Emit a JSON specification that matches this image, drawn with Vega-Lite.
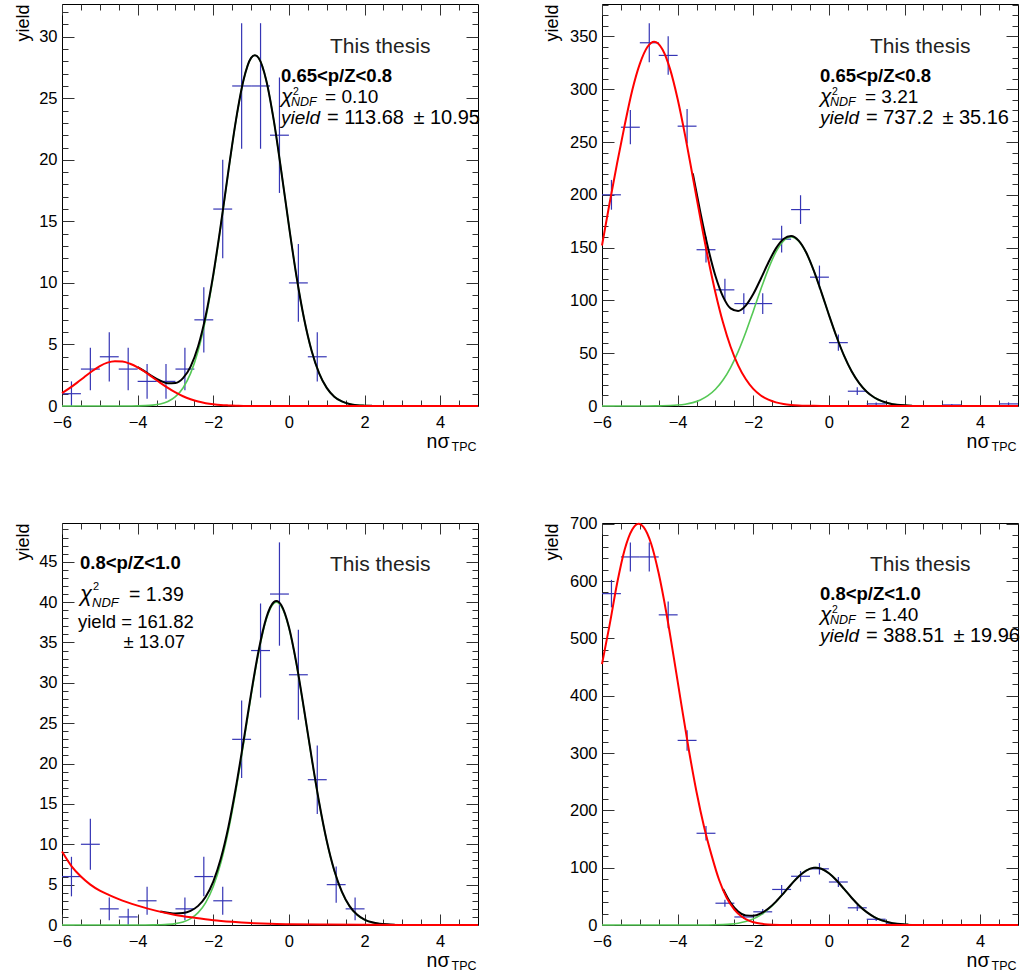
{
"$schema": "https://vega.github.io/schema/vega-lite/v6.json",
"background": "white",
"padding": {"left": 13, "top": 3, "right": 0, "bottom": 0},
"config": {
 "view": {"stroke": "#000", "strokeWidth": 1},
 "axis": {"grid": false, "domain": false, "tickColor": "#333", "tickWidth": 1, "labelFont": "Liberation Sans", "labelFontSize": 16.5, "labelColor": "#000", "labelFlush": false, "labelOverlap": false, "labelBound": false, "titleFont": "Liberation Sans", "titleFontWeight": "normal", "titleColor": "#000", "titlePadding": 0},
 "text": {"font": "Liberation Sans", "color": "#000"}
},
"datasets": {
"one": [{}],
"pts": [
{"p":1,"x":-5.75,"xlo":-6,"xhi":-5.5,"v":1,"lo":0,"hi":2},
{"p":1,"x":-5.25,"xlo":-5.5,"xhi":-5,"v":3,"lo":1.27,"hi":4.73},
{"p":1,"x":-4.75,"xlo":-5,"xhi":-4.5,"v":4,"lo":2,"hi":6},
{"p":1,"x":-4.25,"xlo":-4.5,"xhi":-4,"v":3,"lo":1.27,"hi":4.73},
{"p":1,"x":-3.75,"xlo":-4,"xhi":-3.5,"v":2,"lo":0.59,"hi":3.41},
{"p":1,"x":-3.25,"xlo":-3.5,"xhi":-3,"v":2,"lo":0.59,"hi":3.41},
{"p":1,"x":-2.75,"xlo":-3,"xhi":-2.5,"v":3,"lo":1.27,"hi":4.73},
{"p":1,"x":-2.25,"xlo":-2.5,"xhi":-2,"v":7,"lo":4.35,"hi":9.65},
{"p":1,"x":-1.75,"xlo":-2,"xhi":-1.5,"v":16,"lo":12,"hi":20},
{"p":1,"x":-1.25,"xlo":-1.5,"xhi":-1,"v":26,"lo":20.9,"hi":31.1},
{"p":1,"x":-0.75,"xlo":-1,"xhi":-0.5,"v":26,"lo":20.9,"hi":31.1},
{"p":1,"x":-0.25,"xlo":-0.5,"xhi":0,"v":22,"lo":17.31,"hi":26.69},
{"p":1,"x":0.25,"xlo":0,"xhi":0.5,"v":10,"lo":6.84,"hi":13.16},
{"p":1,"x":0.75,"xlo":0.5,"xhi":1,"v":4,"lo":2,"hi":6},
{"p":2,"x":-5.75,"xlo":-6,"xhi":-5.5,"v":200,"lo":185.9,"hi":214.1},
{"p":2,"x":-5.25,"xlo":-5.5,"xhi":-5,"v":264,"lo":247.8,"hi":280.2},
{"p":2,"x":-4.75,"xlo":-5,"xhi":-4.5,"v":344,"lo":325.5,"hi":362.5},
{"p":2,"x":-4.25,"xlo":-4.5,"xhi":-4,"v":332,"lo":313.8,"hi":350.2},
{"p":2,"x":-3.75,"xlo":-4,"xhi":-3.5,"v":265,"lo":248.7,"hi":281.3},
{"p":2,"x":-3.25,"xlo":-3.5,"xhi":-3,"v":148,"lo":135.8,"hi":160.2},
{"p":2,"x":-2.75,"xlo":-3,"xhi":-2.5,"v":110,"lo":99.5,"hi":120.5},
{"p":2,"x":-2.25,"xlo":-2.5,"xhi":-2,"v":97,"lo":87.2,"hi":106.8},
{"p":2,"x":-1.75,"xlo":-2,"xhi":-1.5,"v":97,"lo":87.2,"hi":106.8},
{"p":2,"x":-1.25,"xlo":-1.5,"xhi":-1,"v":158,"lo":145.4,"hi":170.6},
{"p":2,"x":-0.75,"xlo":-1,"xhi":-0.5,"v":186,"lo":172.4,"hi":199.6},
{"p":2,"x":-0.25,"xlo":-0.5,"xhi":0,"v":122,"lo":111,"hi":133},
{"p":2,"x":0.25,"xlo":0,"xhi":0.5,"v":60,"lo":52.3,"hi":67.7},
{"p":2,"x":0.75,"xlo":0.5,"xhi":1,"v":14,"lo":10.3,"hi":17.7},
{"p":2,"x":1.25,"xlo":1,"xhi":1.5,"v":2,"lo":0.6,"hi":3.4},
{"p":2,"x":3.25,"xlo":3,"xhi":3.5,"v":1,"lo":0,"hi":2},
{"p":2,"x":4.75,"xlo":4.5,"xhi":5,"v":2,"lo":0.6,"hi":3.4},
{"p":3,"x":-5.75,"xlo":-6,"xhi":-5.5,"v":6,"lo":3.55,"hi":8.45},
{"p":3,"x":-5.25,"xlo":-5.5,"xhi":-5,"v":10,"lo":6.84,"hi":13.16},
{"p":3,"x":-4.75,"xlo":-5,"xhi":-4.5,"v":2,"lo":0.59,"hi":3.41},
{"p":3,"x":-4.25,"xlo":-4.5,"xhi":-4,"v":1,"lo":0,"hi":2},
{"p":3,"x":-3.75,"xlo":-4,"xhi":-3.5,"v":3,"lo":1.27,"hi":4.73},
{"p":3,"x":-2.75,"xlo":-3,"xhi":-2.5,"v":2,"lo":0.59,"hi":3.41},
{"p":3,"x":-2.25,"xlo":-2.5,"xhi":-2,"v":6,"lo":3.55,"hi":8.45},
{"p":3,"x":-1.75,"xlo":-2,"xhi":-1.5,"v":3,"lo":1.27,"hi":4.73},
{"p":3,"x":-1.25,"xlo":-1.5,"xhi":-1,"v":23,"lo":18.2,"hi":27.8},
{"p":3,"x":-0.75,"xlo":-1,"xhi":-0.5,"v":34,"lo":28.17,"hi":39.83},
{"p":3,"x":-0.25,"xlo":-0.5,"xhi":0,"v":41,"lo":34.6,"hi":47.4},
{"p":3,"x":0.25,"xlo":0,"xhi":0.5,"v":31,"lo":25.43,"hi":36.57},
{"p":3,"x":0.75,"xlo":0.5,"xhi":1,"v":18,"lo":13.76,"hi":22.24},
{"p":3,"x":1.25,"xlo":1,"xhi":1.5,"v":5,"lo":2.76,"hi":7.24},
{"p":3,"x":1.75,"xlo":1.5,"xhi":2,"v":2,"lo":0.59,"hi":3.41},
{"p":4,"x":-5.75,"xlo":-6,"xhi":-5.5,"v":578,"lo":554,"hi":602},
{"p":4,"x":-5.25,"xlo":-5.5,"xhi":-5,"v":642,"lo":616.7,"hi":667.3},
{"p":4,"x":-4.75,"xlo":-5,"xhi":-4.5,"v":642,"lo":616.7,"hi":667.3},
{"p":4,"x":-4.25,"xlo":-4.5,"xhi":-4,"v":541,"lo":517.7,"hi":564.3},
{"p":4,"x":-3.75,"xlo":-4,"xhi":-3.5,"v":322,"lo":304.1,"hi":339.9},
{"p":4,"x":-3.25,"xlo":-3.5,"xhi":-3,"v":160,"lo":147.4,"hi":172.6},
{"p":4,"x":-2.75,"xlo":-3,"xhi":-2.5,"v":38,"lo":31.8,"hi":44.2},
{"p":4,"x":-2.25,"xlo":-2.5,"xhi":-2,"v":14,"lo":10.3,"hi":17.7},
{"p":4,"x":-1.75,"xlo":-2,"xhi":-1.5,"v":23,"lo":18.2,"hi":27.8},
{"p":4,"x":-1.25,"xlo":-1.5,"xhi":-1,"v":62,"lo":54.1,"hi":69.9},
{"p":4,"x":-0.75,"xlo":-1,"xhi":-0.5,"v":85,"lo":75.8,"hi":94.2},
{"p":4,"x":-0.25,"xlo":-0.5,"xhi":0,"v":98,"lo":88.1,"hi":107.9},
{"p":4,"x":0.25,"xlo":0,"xhi":0.5,"v":75,"lo":66.3,"hi":83.7},
{"p":4,"x":0.75,"xlo":0.5,"xhi":1,"v":30,"lo":24.5,"hi":35.5},
{"p":4,"x":1.25,"xlo":1,"xhi":1.5,"v":10,"lo":6.8,"hi":13.2},
{"p":4,"x":1.75,"xlo":1.5,"xhi":2,"v":2,"lo":0.6,"hi":3.4}
],
"cur": [
{"p":1,"c":"r","x":-6,"y":1.05},{"p":1,"c":"r","x":-5.8,"y":1.45},{"p":1,"c":"r","x":-5.6,"y":1.9},{"p":1,"c":"r","x":-5.4,"y":2.38},{"p":1,"c":"r","x":-5.2,"y":2.84},{"p":1,"c":"r","x":-5,"y":3.24},{"p":1,"c":"r","x":-4.8,"y":3.52},{"p":1,"c":"r","x":-4.6,"y":3.64},{"p":1,"c":"r","x":-4.4,"y":3.61},{"p":1,"c":"r","x":-4.2,"y":3.43},{"p":1,"c":"r","x":-4,"y":3.14},{"p":1,"c":"r","x":-3.8,"y":2.76},{"p":1,"c":"r","x":-3.6,"y":2.32},{"p":1,"c":"r","x":-3.4,"y":1.88},{"p":1,"c":"r","x":-3.2,"y":1.47},{"p":1,"c":"r","x":-3,"y":1.1},{"p":1,"c":"r","x":-2.8,"y":0.79},{"p":1,"c":"r","x":-2.6,"y":0.55},{"p":1,"c":"r","x":-2.4,"y":0.36},{"p":1,"c":"r","x":-2.2,"y":0.23},{"p":1,"c":"r","x":-2,"y":0.14},{"p":1,"c":"r","x":-1.8,"y":0.08},{"p":1,"c":"r","x":-1.6,"y":0.05},{"p":1,"c":"r","x":-1.4,"y":0.03},{"p":1,"c":"r","x":-1.2,"y":0.01},{"p":1,"c":"r","x":-1,"y":0},{"p":1,"c":"r","x":5,"y":0},
{"p":1,"c":"g","x":-6,"y":0},{"p":1,"c":"g","x":-4.4,"y":0},{"p":1,"c":"g","x":-4.2,"y":0.004},{"p":1,"c":"g","x":-4,"y":0.011},{"p":1,"c":"g","x":-3.8,"y":0.028},{"p":1,"c":"g","x":-3.6,"y":0.071},{"p":1,"c":"g","x":-3.4,"y":0.168},{"p":1,"c":"g","x":-3.2,"y":0.369},{"p":1,"c":"g","x":-3,"y":0.76},{"p":1,"c":"g","x":-2.8,"y":1.467},{"p":1,"c":"g","x":-2.6,"y":2.65},{"p":1,"c":"g","x":-2.4,"y":4.49},{"p":1,"c":"g","x":-2.2,"y":7.11},{"p":1,"c":"g","x":-2,"y":10.54},{"p":1,"c":"g","x":-1.8,"y":14.65},{"p":1,"c":"g","x":-1.6,"y":19.05},{"p":1,"c":"g","x":-1.4,"y":23.2},{"p":1,"c":"g","x":-1.2,"y":26.47},{"p":1,"c":"g","x":-1,"y":28.27},{"p":1,"c":"g","x":-0.9,"y":28.5},{"p":1,"c":"g","x":-0.8,"y":28.27},{"p":1,"c":"g","x":-0.6,"y":26.47},{"p":1,"c":"g","x":-0.4,"y":23.2},{"p":1,"c":"g","x":-0.2,"y":19.05},{"p":1,"c":"g","x":0,"y":14.65},{"p":1,"c":"g","x":0.2,"y":10.54},{"p":1,"c":"g","x":0.4,"y":7.11},{"p":1,"c":"g","x":0.6,"y":4.49},{"p":1,"c":"g","x":0.8,"y":2.65},{"p":1,"c":"g","x":1,"y":1.467},{"p":1,"c":"g","x":1.2,"y":0.76},{"p":1,"c":"g","x":1.4,"y":0.369},{"p":1,"c":"g","x":1.6,"y":0.168},{"p":1,"c":"g","x":1.8,"y":0.071},{"p":1,"c":"g","x":2,"y":0.028},{"p":1,"c":"g","x":2.2,"y":0.011},{"p":1,"c":"g","x":2.4,"y":0.004},{"p":1,"c":"g","x":2.6,"y":0},{"p":1,"c":"g","x":5,"y":0},
{"p":1,"c":"k","x":-4,"y":3.15},{"p":1,"c":"k","x":-3.8,"y":2.79},{"p":1,"c":"k","x":-3.6,"y":2.39},{"p":1,"c":"k","x":-3.4,"y":2.05},{"p":1,"c":"k","x":-3.2,"y":1.84},{"p":1,"c":"k","x":-3,"y":1.86},{"p":1,"c":"k","x":-2.8,"y":2.26},{"p":1,"c":"k","x":-2.6,"y":3.2},{"p":1,"c":"k","x":-2.4,"y":4.85},{"p":1,"c":"k","x":-2.2,"y":7.34},{"p":1,"c":"k","x":-2,"y":10.68},{"p":1,"c":"k","x":-1.8,"y":14.73},{"p":1,"c":"k","x":-1.6,"y":19.1},{"p":1,"c":"k","x":-1.4,"y":23.23},{"p":1,"c":"k","x":-1.2,"y":26.48},{"p":1,"c":"k","x":-1,"y":28.28},{"p":1,"c":"k","x":-0.9,"y":28.5},{"p":1,"c":"k","x":-0.8,"y":28.27},{"p":1,"c":"k","x":-0.6,"y":26.47},{"p":1,"c":"k","x":-0.4,"y":23.2},{"p":1,"c":"k","x":-0.2,"y":19.05},{"p":1,"c":"k","x":0,"y":14.65},{"p":1,"c":"k","x":0.2,"y":10.54},{"p":1,"c":"k","x":0.4,"y":7.11},{"p":1,"c":"k","x":0.6,"y":4.49},{"p":1,"c":"k","x":0.8,"y":2.65},{"p":1,"c":"k","x":1,"y":1.47},{"p":1,"c":"k","x":1.2,"y":0.76},{"p":1,"c":"k","x":1.4,"y":0.37},{"p":1,"c":"k","x":1.6,"y":0.17},{"p":1,"c":"k","x":1.8,"y":0.07},{"p":1,"c":"k","x":2,"y":0.03},{"p":1,"c":"k","x":2.2,"y":0.01},
{"p":2,"c":"r","x":-6,"y":152},{"p":2,"c":"r","x":-5.8,"y":192},{"p":2,"c":"r","x":-5.6,"y":230},{"p":2,"c":"r","x":-5.4,"y":266},{"p":2,"c":"r","x":-5.2,"y":299},{"p":2,"c":"r","x":-5,"y":324},{"p":2,"c":"r","x":-4.8,"y":340},{"p":2,"c":"r","x":-4.62,"y":345},{"p":2,"c":"r","x":-4.4,"y":337.6},{"p":2,"c":"r","x":-4.2,"y":319},{"p":2,"c":"r","x":-4,"y":290.7},{"p":2,"c":"r","x":-3.8,"y":255.8},{"p":2,"c":"r","x":-3.6,"y":217.1},{"p":2,"c":"r","x":-3.4,"y":177.9},{"p":2,"c":"r","x":-3.2,"y":140.6},{"p":2,"c":"r","x":-3,"y":107.3},{"p":2,"c":"r","x":-2.8,"y":79},{"p":2,"c":"r","x":-2.6,"y":56.1},{"p":2,"c":"r","x":-2.4,"y":38.5},{"p":2,"c":"r","x":-2.2,"y":25.5},{"p":2,"c":"r","x":-2,"y":16.2},{"p":2,"c":"r","x":-1.8,"y":10},{"p":2,"c":"r","x":-1.6,"y":5.96},{"p":2,"c":"r","x":-1.4,"y":3.42},{"p":2,"c":"r","x":-1.2,"y":1.89},{"p":2,"c":"r","x":-1,"y":1.01},{"p":2,"c":"r","x":-0.8,"y":0.52},{"p":2,"c":"r","x":-0.6,"y":0.25},{"p":2,"c":"r","x":-0.4,"y":0.12},{"p":2,"c":"r","x":-0.2,"y":0.05},{"p":2,"c":"r","x":0,"y":0.02},{"p":2,"c":"r","x":0.2,"y":0},{"p":2,"c":"r","x":5,"y":0},
{"p":2,"c":"g","x":-6,"y":0},{"p":2,"c":"g","x":-4.8,"y":0.03},{"p":2,"c":"g","x":-4.6,"y":0.09},{"p":2,"c":"g","x":-4.4,"y":0.2},{"p":2,"c":"g","x":-4.2,"y":0.43},{"p":2,"c":"g","x":-4,"y":0.88},{"p":2,"c":"g","x":-3.8,"y":1.72},{"p":2,"c":"g","x":-3.6,"y":3.21},{"p":2,"c":"g","x":-3.4,"y":5.73},{"p":2,"c":"g","x":-3.2,"y":9.75},{"p":2,"c":"g","x":-3,"y":15.8},{"p":2,"c":"g","x":-2.8,"y":24.6},{"p":2,"c":"g","x":-2.6,"y":36.4},{"p":2,"c":"g","x":-2.4,"y":51.5},{"p":2,"c":"g","x":-2.2,"y":69.6},{"p":2,"c":"g","x":-2,"y":89.8},{"p":2,"c":"g","x":-1.8,"y":110.5},{"p":2,"c":"g","x":-1.6,"y":129.9},{"p":2,"c":"g","x":-1.4,"y":145.9},{"p":2,"c":"g","x":-1.2,"y":156.3},{"p":2,"c":"g","x":-1,"y":160},{"p":2,"c":"g","x":-0.8,"y":156.1},{"p":2,"c":"g","x":-0.6,"y":145},{"p":2,"c":"g","x":-0.4,"y":128.1},{"p":2,"c":"g","x":-0.2,"y":107.8},{"p":2,"c":"g","x":0,"y":86.3},{"p":2,"c":"g","x":0.2,"y":65.8},{"p":2,"c":"g","x":0.4,"y":47.7},{"p":2,"c":"g","x":0.6,"y":32.9},{"p":2,"c":"g","x":0.8,"y":21.7},{"p":2,"c":"g","x":1,"y":13.5},{"p":2,"c":"g","x":1.2,"y":8.06},{"p":2,"c":"g","x":1.4,"y":4.57},{"p":2,"c":"g","x":1.6,"y":2.46},{"p":2,"c":"g","x":1.8,"y":1.26},{"p":2,"c":"g","x":2,"y":0.62},{"p":2,"c":"g","x":2.2,"y":0.29},{"p":2,"c":"g","x":2.4,"y":0.13},{"p":2,"c":"g","x":2.6,"y":0.05},{"p":2,"c":"g","x":2.8,"y":0},{"p":2,"c":"g","x":5,"y":0},
{"p":2,"c":"k","x":-3.6,"y":220.3},{"p":2,"c":"k","x":-3.4,"y":183.6},{"p":2,"c":"k","x":-3.2,"y":150.4},{"p":2,"c":"k","x":-3,"y":123.1},{"p":2,"c":"k","x":-2.8,"y":103.6},{"p":2,"c":"k","x":-2.6,"y":92.5},{"p":2,"c":"k","x":-2.4,"y":90},{"p":2,"c":"k","x":-2.2,"y":95.1},{"p":2,"c":"k","x":-2,"y":106},{"p":2,"c":"k","x":-1.8,"y":120.5},{"p":2,"c":"k","x":-1.6,"y":135.9},{"p":2,"c":"k","x":-1.4,"y":149.3},{"p":2,"c":"k","x":-1.2,"y":158.2},{"p":2,"c":"k","x":-1,"y":161},{"p":2,"c":"k","x":-0.8,"y":156.6},{"p":2,"c":"k","x":-0.6,"y":145.3},{"p":2,"c":"k","x":-0.4,"y":128.2},{"p":2,"c":"k","x":-0.2,"y":107.9},{"p":2,"c":"k","x":0,"y":86.3},{"p":2,"c":"k","x":0.2,"y":65.8},{"p":2,"c":"k","x":0.4,"y":47.7},{"p":2,"c":"k","x":0.6,"y":32.9},{"p":2,"c":"k","x":0.8,"y":21.7},{"p":2,"c":"k","x":1,"y":13.5},{"p":2,"c":"k","x":1.2,"y":8.06},{"p":2,"c":"k","x":1.4,"y":4.57},{"p":2,"c":"k","x":1.6,"y":2.46},{"p":2,"c":"k","x":1.8,"y":1.26},{"p":2,"c":"k","x":2,"y":0.62},{"p":2,"c":"k","x":2.2,"y":0.29},
{"p":3,"c":"r","x":-6,"y":9.1},{"p":3,"c":"r","x":-5.75,"y":7.3},{"p":3,"c":"r","x":-5.5,"y":6},{"p":3,"c":"r","x":-5.25,"y":5},{"p":3,"c":"r","x":-5,"y":4.25},{"p":3,"c":"r","x":-4.75,"y":3.7},{"p":3,"c":"r","x":-4.5,"y":3.2},{"p":3,"c":"r","x":-4,"y":2.4},{"p":3,"c":"r","x":-3.5,"y":1.75},{"p":3,"c":"r","x":-3,"y":1.25},{"p":3,"c":"r","x":-2.5,"y":0.9},{"p":3,"c":"r","x":-2,"y":0.6},{"p":3,"c":"r","x":-1.5,"y":0.4},{"p":3,"c":"r","x":-1,"y":0.25},{"p":3,"c":"r","x":-0.5,"y":0.15},{"p":3,"c":"r","x":0,"y":0.1},{"p":3,"c":"r","x":1,"y":0.05},{"p":3,"c":"r","x":2,"y":0.02},{"p":3,"c":"r","x":3,"y":0},{"p":3,"c":"r","x":5,"y":0},
{"p":3,"c":"g","x":-6,"y":0},{"p":3,"c":"g","x":-3.8,"y":0},{"p":3,"c":"g","x":-3.6,"y":0.01},{"p":3,"c":"g","x":-3.4,"y":0.03},{"p":3,"c":"g","x":-3.2,"y":0.075},{"p":3,"c":"g","x":-3,"y":0.175},{"p":3,"c":"g","x":-2.8,"y":0.383},{"p":3,"c":"g","x":-2.6,"y":0.788},{"p":3,"c":"g","x":-2.4,"y":1.53},{"p":3,"c":"g","x":-2.2,"y":2.78},{"p":3,"c":"g","x":-2,"y":4.78},{"p":3,"c":"g","x":-1.8,"y":7.71},{"p":3,"c":"g","x":-1.6,"y":11.7},{"p":3,"c":"g","x":-1.4,"y":16.72},{"p":3,"c":"g","x":-1.2,"y":22.47},{"p":3,"c":"g","x":-1,"y":28.41},{"p":3,"c":"g","x":-0.8,"y":33.8},{"p":3,"c":"g","x":-0.6,"y":37.84},{"p":3,"c":"g","x":-0.4,"y":39.85},{"p":3,"c":"g","x":-0.33,"y":40},{"p":3,"c":"g","x":-0.2,"y":39.49},{"p":3,"c":"g","x":0,"y":36.82},{"p":3,"c":"g","x":0.2,"y":32.29},{"p":3,"c":"g","x":0.4,"y":26.65},{"p":3,"c":"g","x":0.6,"y":20.69},{"p":3,"c":"g","x":0.8,"y":15.12},{"p":3,"c":"g","x":1,"y":10.39},{"p":3,"c":"g","x":1.2,"y":6.72},{"p":3,"c":"g","x":1.4,"y":4.09},{"p":3,"c":"g","x":1.6,"y":2.34},{"p":3,"c":"g","x":1.8,"y":1.26},{"p":3,"c":"g","x":2,"y":0.64},{"p":3,"c":"g","x":2.2,"y":0.3},{"p":3,"c":"g","x":2.4,"y":0.14},{"p":3,"c":"g","x":2.6,"y":0.06},{"p":3,"c":"g","x":2.8,"y":0.02},{"p":3,"c":"g","x":3,"y":0},{"p":3,"c":"g","x":5,"y":0},
{"p":3,"c":"k","x":-3.4,"y":1.68},{"p":3,"c":"k","x":-3.2,"y":1.53},{"p":3,"c":"k","x":-3,"y":1.43},{"p":3,"c":"k","x":-2.8,"y":1.49},{"p":3,"c":"k","x":-2.6,"y":1.76},{"p":3,"c":"k","x":-2.4,"y":2.37},{"p":3,"c":"k","x":-2.2,"y":3.5},{"p":3,"c":"k","x":-2,"y":5.38},{"p":3,"c":"k","x":-1.8,"y":8.23},{"p":3,"c":"k","x":-1.6,"y":12.14},{"p":3,"c":"k","x":-1.4,"y":17.09},{"p":3,"c":"k","x":-1.2,"y":22.78},{"p":3,"c":"k","x":-1,"y":28.66},{"p":3,"c":"k","x":-0.8,"y":34.01},{"p":3,"c":"k","x":-0.6,"y":38.02},{"p":3,"c":"k","x":-0.4,"y":40},{"p":3,"c":"k","x":-0.33,"y":40.13},{"p":3,"c":"k","x":-0.2,"y":39.61},{"p":3,"c":"k","x":0,"y":36.92},{"p":3,"c":"k","x":0.2,"y":32.38},{"p":3,"c":"k","x":0.4,"y":26.73},{"p":3,"c":"k","x":0.6,"y":20.76},{"p":3,"c":"k","x":0.8,"y":15.18},{"p":3,"c":"k","x":1,"y":10.44},{"p":3,"c":"k","x":1.2,"y":6.76},{"p":3,"c":"k","x":1.4,"y":4.13},{"p":3,"c":"k","x":1.6,"y":2.37},{"p":3,"c":"k","x":1.8,"y":1.29},{"p":3,"c":"k","x":2,"y":0.67},{"p":3,"c":"k","x":2.2,"y":0.33},{"p":3,"c":"k","x":2.4,"y":0.16},{"p":3,"c":"k","x":2.6,"y":0.08},{"p":3,"c":"k","x":2.8,"y":0.04},
{"p":4,"c":"r","x":-6,"y":455},{"p":4,"c":"r","x":-5.8,"y":523},{"p":4,"c":"r","x":-5.6,"y":596},{"p":4,"c":"r","x":-5.4,"y":655},{"p":4,"c":"r","x":-5.2,"y":690},{"p":4,"c":"r","x":-5.03,"y":700},{"p":4,"c":"r","x":-4.9,"y":694},{"p":4,"c":"r","x":-4.7,"y":665},{"p":4,"c":"r","x":-4.5,"y":613},{"p":4,"c":"r","x":-4.3,"y":545},{"p":4,"c":"r","x":-4.1,"y":466},{"p":4,"c":"r","x":-3.9,"y":384},{"p":4,"c":"r","x":-3.7,"y":304},{"p":4,"c":"r","x":-3.5,"y":232},{"p":4,"c":"r","x":-3.3,"y":171},{"p":4,"c":"r","x":-3.1,"y":121},{"p":4,"c":"r","x":-2.9,"y":78},{"p":4,"c":"r","x":-2.7,"y":47},{"p":4,"c":"r","x":-2.5,"y":27},{"p":4,"c":"r","x":-2.3,"y":14.5},{"p":4,"c":"r","x":-2.1,"y":7.2},{"p":4,"c":"r","x":-1.9,"y":3.4},{"p":4,"c":"r","x":-1.7,"y":1.5},{"p":4,"c":"r","x":-1.5,"y":0.6},{"p":4,"c":"r","x":-1.3,"y":0.2},{"p":4,"c":"r","x":-1.1,"y":0.05},{"p":4,"c":"r","x":-0.9,"y":0},{"p":4,"c":"r","x":5,"y":0},
{"p":4,"c":"g","x":-6,"y":0},{"p":4,"c":"g","x":-3.4,"y":0},{"p":4,"c":"g","x":-3.2,"y":0.12},{"p":4,"c":"g","x":-3,"y":0.31},{"p":4,"c":"g","x":-2.8,"y":0.72},{"p":4,"c":"g","x":-2.6,"y":1.56},{"p":4,"c":"g","x":-2.4,"y":3.16},{"p":4,"c":"g","x":-2.2,"y":6},{"p":4,"c":"g","x":-2,"y":10.67},{"p":4,"c":"g","x":-1.8,"y":17.76},{"p":4,"c":"g","x":-1.6,"y":27.69},{"p":4,"c":"g","x":-1.4,"y":40.4},{"p":4,"c":"g","x":-1.2,"y":55.2},{"p":4,"c":"g","x":-1,"y":70.7},{"p":4,"c":"g","x":-0.8,"y":84.7},{"p":4,"c":"g","x":-0.6,"y":95},{"p":4,"c":"g","x":-0.4,"y":99.8},{"p":4,"c":"g","x":-0.35,"y":100},{"p":4,"c":"g","x":-0.2,"y":98.2},{"p":4,"c":"g","x":0,"y":90.4},{"p":4,"c":"g","x":0.2,"y":78},{"p":4,"c":"g","x":0.4,"y":63},{"p":4,"c":"g","x":0.6,"y":47.6},{"p":4,"c":"g","x":0.8,"y":33.7},{"p":4,"c":"g","x":1,"y":22.4},{"p":4,"c":"g","x":1.2,"y":13.9},{"p":4,"c":"g","x":1.4,"y":8.07},{"p":4,"c":"g","x":1.6,"y":4.39},{"p":4,"c":"g","x":1.8,"y":2.24},{"p":4,"c":"g","x":2,"y":1.07},{"p":4,"c":"g","x":2.2,"y":0.48},{"p":4,"c":"g","x":2.4,"y":0.2},{"p":4,"c":"g","x":2.6,"y":0},{"p":4,"c":"g","x":5,"y":0},
{"p":4,"c":"k","x":-2.8,"y":62.7},{"p":4,"c":"k","x":-2.6,"y":38.6},{"p":4,"c":"k","x":-2.4,"y":23.7},{"p":4,"c":"k","x":-2.2,"y":16.8},{"p":4,"c":"k","x":-2,"y":16},{"p":4,"c":"k","x":-1.8,"y":20.2},{"p":4,"c":"k","x":-1.6,"y":28.7},{"p":4,"c":"k","x":-1.4,"y":40.8},{"p":4,"c":"k","x":-1.2,"y":55.3},{"p":4,"c":"k","x":-1,"y":70.7},{"p":4,"c":"k","x":-0.8,"y":84.7},{"p":4,"c":"k","x":-0.6,"y":95},{"p":4,"c":"k","x":-0.4,"y":99.8},{"p":4,"c":"k","x":-0.35,"y":100},{"p":4,"c":"k","x":-0.2,"y":98.2},{"p":4,"c":"k","x":0,"y":90.4},{"p":4,"c":"k","x":0.2,"y":78},{"p":4,"c":"k","x":0.4,"y":63},{"p":4,"c":"k","x":0.6,"y":47.6},{"p":4,"c":"k","x":0.8,"y":33.7},{"p":4,"c":"k","x":1,"y":22.4},{"p":4,"c":"k","x":1.2,"y":13.9},{"p":4,"c":"k","x":1.4,"y":8.07},{"p":4,"c":"k","x":1.6,"y":4.39},{"p":4,"c":"k","x":1.8,"y":2.24},{"p":4,"c":"k","x":2,"y":1.07},{"p":4,"c":"k","x":2.1,"y":0.7}
]
},
"columns": 2,
"spacing": {"row": 117, "column": 124},
"bounds": "flush",
"concat": [
{
 "width": 416, "height": 402,
 "resolve": {"axis": {"x": "independent", "y": "independent"}},
 "layer": [
  {"data": {"name": "pts"}, "transform": [{"filter": "datum.p == 1"}],
   "mark": {"type": "rule", "color": "#3535b5", "strokeWidth": 1.2},
   "encoding": {
    "x": {"field": "x", "type": "quantitative", "scale": {"domain": [-6, 5], "nice": false, "zero": false}, "axis": {"orient": "bottom", "values": [-6,-4,-2,0,2,4], "tickSize": -11, "labelPadding": 19, "title": "nσ", "titleX": 387, "titleY": 41, "titleAlign": "right", "titleBaseline": "alphabetic", "titleFontSize": 19.5}},
    "y": {"field": "lo", "type": "quantitative", "scale": {"domain": [0, 32.66], "nice": false, "zero": false}, "axis": {"orient": "left", "values": [0,5,10,15,20,25,30], "tickSize": -12, "labelPadding": 17, "title": "yield", "titleX": -34, "titleY": 0, "titleAngle": 270, "titleAlign": "right", "titleBaseline": "alphabetic", "titleFontSize": 18}},
    "y2": {"field": "hi"}}},
  {"data": {"name": "pts"}, "transform": [{"filter": "datum.p == 1"}],
   "mark": {"type": "rule", "color": "#3535b5", "strokeWidth": 1.2},
   "encoding": {
    "x": {"field": "xlo", "type": "quantitative", "scale": {"domain": [-6, 5], "nice": false, "zero": false}, "axis": {"orient": "bottom", "values": [-5.5,-5,-4.5,-3.5,-3,-2.5,-1.5,-1,-0.5,0.5,1,1.5,2.5,3,3.5,4.5], "tickSize": -6, "labels": false, "title": "TPC", "titleX": 414, "titleY": 44, "titleAlign": "right", "titleBaseline": "alphabetic", "titleFontSize": 12.5}},
    "x2": {"field": "xhi"},
    "y": {"field": "v", "type": "quantitative", "scale": {"domain": [0, 32.66], "nice": false, "zero": false}, "axis": {"orient": "left", "values": [1,2,3,4,6,7,8,9,11,12,13,14,16,17,18,19,21,22,23,24,26,27,28,29,31,32], "tickSize": -6, "labels": false, "title": null}}}},
  {"data": {"name": "cur"}, "transform": [{"filter": "datum.p == 1 && datum.c == 'g'"}],
   "mark": {"type": "line", "color": "#55c855", "strokeWidth": 1.6, "interpolate": "monotone"},
   "encoding": {
    "x": {"field": "x", "type": "quantitative", "scale": {"domain": [-6, 5], "nice": false, "zero": false}, "axis": {"orient": "top", "values": [-6,-4,-2,0,2,4], "tickSize": -11, "labels": false, "title": null}},
    "y": {"field": "y", "type": "quantitative", "scale": {"domain": [0, 32.66], "nice": false, "zero": false}, "axis": {"orient": "right", "values": [0,5,10,15,20,25,30], "tickSize": -12, "labels": false, "title": null}}}},
  {"data": {"name": "cur"}, "transform": [{"filter": "datum.p == 1 && datum.c == 'k'"}],
   "mark": {"type": "line", "color": "#000000", "strokeWidth": 2, "interpolate": "monotone"},
   "encoding": {
    "x": {"field": "x", "type": "quantitative", "scale": {"domain": [-6, 5], "nice": false, "zero": false}, "axis": {"orient": "top", "values": [-5.5,-5,-4.5,-3.5,-3,-2.5,-1.5,-1,-0.5,0.5,1,1.5,2.5,3,3.5,4.5], "tickSize": -6, "labels": false, "title": null}},
    "y": {"field": "y", "type": "quantitative", "scale": {"domain": [0, 32.66], "nice": false, "zero": false}, "axis": {"orient": "right", "values": [1,2,3,4,6,7,8,9,11,12,13,14,16,17,18,19,21,22,23,24,26,27,28,29,31,32], "tickSize": -6, "labels": false, "title": null}}}},
  {"data": {"name": "cur"}, "transform": [{"filter": "datum.p == 1 && datum.c == 'r'"}],
   "mark": {"type": "line", "color": "#ff0000", "strokeWidth": 2, "interpolate": "monotone"},
   "encoding": {
    "x": {"field": "x", "type": "quantitative", "scale": {"domain": [-6, 5], "nice": false, "zero": false}, "axis": null},
    "y": {"field": "y", "type": "quantitative", "scale": {"domain": [0, 32.66], "nice": false, "zero": false}, "axis": null}}},
  {"data": {"name": "one"}, "mark": {"type": "text", "text": "This thesis", "fontSize": 21, "align": "left", "baseline": "alphabetic", "color": "#222"},
   "encoding": {"x": {"datum": 1.087, "type": "quantitative", "scale": {"domain": [-6, 5], "nice": false, "zero": false}, "axis": null}, "y": {"datum": 28.68, "type": "quantitative", "scale": {"domain": [0, 32.66], "nice": false, "zero": false}, "axis": null}}},
  {"data": {"name": "one"}, "mark": {"type": "text", "text": "0.65<p/Z<0.8", "fontSize": 18.5, "fontWeight": "bold", "align": "left", "baseline": "alphabetic"},
   "encoding": {"x": {"datum": -0.209, "type": "quantitative", "scale": {"domain": [-6, 5], "nice": false, "zero": false}, "axis": null}, "y": {"datum": 26.32, "type": "quantitative", "scale": {"domain": [0, 32.66], "nice": false, "zero": false}, "axis": null}}},
  {"data": {"name": "one"}, "mark": {"type": "text", "text": "χ", "fontSize": 21, "fontStyle": "italic", "align": "left", "baseline": "alphabetic"},
   "encoding": {"x": {"datum": -0.209, "type": "quantitative", "scale": {"domain": [-6, 5], "nice": false, "zero": false}, "axis": null}, "y": {"datum": 24.64, "type": "quantitative", "scale": {"domain": [0, 32.66], "nice": false, "zero": false}, "axis": null}}},
  {"data": {"name": "one"}, "mark": {"type": "text", "text": "2", "fontSize": 10.5, "align": "left", "baseline": "alphabetic", "dx": 12, "dy": -8},
   "encoding": {"x": {"datum": -0.209, "type": "quantitative", "scale": {"domain": [-6, 5], "nice": false, "zero": false}, "axis": null}, "y": {"datum": 24.64, "type": "quantitative", "scale": {"domain": [0, 32.66], "nice": false, "zero": false}, "axis": null}}},
  {"data": {"name": "one"}, "mark": {"type": "text", "text": "NDF", "fontSize": 12.5, "fontStyle": "italic", "align": "left", "baseline": "alphabetic", "dx": 10, "dy": 3},
   "encoding": {"x": {"datum": -0.209, "type": "quantitative", "scale": {"domain": [-6, 5], "nice": false, "zero": false}, "axis": null}, "y": {"datum": 24.64, "type": "quantitative", "scale": {"domain": [0, 32.66], "nice": false, "zero": false}, "axis": null}}},
  {"data": {"name": "one"}, "mark": {"type": "text", "text": "= 0.10", "fontSize": 19, "align": "left", "baseline": "alphabetic", "dx": 44},
   "encoding": {"x": {"datum": -0.209, "type": "quantitative", "scale": {"domain": [-6, 5], "nice": false, "zero": false}, "axis": null}, "y": {"datum": 24.64, "type": "quantitative", "scale": {"domain": [0, 32.66], "nice": false, "zero": false}, "axis": null}}},
  {"data": {"name": "one"}, "mark": {"type": "text", "text": "yield", "fontSize": 19, "fontStyle": "italic", "align": "left", "baseline": "alphabetic"},
   "encoding": {"x": {"datum": -0.209, "type": "quantitative", "scale": {"domain": [-6, 5], "nice": false, "zero": false}, "axis": null}, "y": {"datum": 22.94, "type": "quantitative", "scale": {"domain": [0, 32.66], "nice": false, "zero": false}, "axis": null}}},
  {"data": {"name": "one"}, "mark": {"type": "text", "text": "= 113.68", "fontSize": 20, "align": "left", "baseline": "alphabetic", "dx": 46},
   "encoding": {"x": {"datum": -0.209, "type": "quantitative", "scale": {"domain": [-6, 5], "nice": false, "zero": false}, "axis": null}, "y": {"datum": 22.94, "type": "quantitative", "scale": {"domain": [0, 32.66], "nice": false, "zero": false}, "axis": null}}},
  {"data": {"name": "one"}, "mark": {"type": "text", "text": "± 10.95", "fontSize": 20, "align": "right", "baseline": "alphabetic", "dx": 199},
   "encoding": {"x": {"datum": -0.209, "type": "quantitative", "scale": {"domain": [-6, 5], "nice": false, "zero": false}, "axis": null}, "y": {"datum": 22.94, "type": "quantitative", "scale": {"domain": [0, 32.66], "nice": false, "zero": false}, "axis": null}}}
 ]
},
{
 "width": 416, "height": 402,
 "resolve": {"axis": {"x": "independent", "y": "independent"}},
 "layer": [
  {"data": {"name": "pts"}, "transform": [{"filter": "datum.p == 2"}],
   "mark": {"type": "rule", "color": "#3535b5", "strokeWidth": 1.2},
   "encoding": {
    "x": {"field": "x", "type": "quantitative", "scale": {"domain": [-6, 5], "nice": false, "zero": false}, "axis": {"orient": "bottom", "values": [-6,-4,-2,0,2,4], "tickSize": -11, "labelPadding": 19, "title": "nσ", "titleX": 387, "titleY": 41, "titleAlign": "right", "titleBaseline": "alphabetic", "titleFontSize": 19.5}},
    "y": {"field": "lo", "type": "quantitative", "scale": {"domain": [0, 380.7], "nice": false, "zero": false}, "axis": {"orient": "left", "values": [0,50,100,150,200,250,300,350], "tickSize": -12, "labelPadding": 17, "title": "yield", "titleX": -45, "titleY": 0, "titleAngle": 270, "titleAlign": "right", "titleBaseline": "alphabetic", "titleFontSize": 18}},
    "y2": {"field": "hi"}}},
  {"data": {"name": "pts"}, "transform": [{"filter": "datum.p == 2"}],
   "mark": {"type": "rule", "color": "#3535b5", "strokeWidth": 1.2},
   "encoding": {
    "x": {"field": "xlo", "type": "quantitative", "scale": {"domain": [-6, 5], "nice": false, "zero": false}, "axis": {"orient": "bottom", "values": [-5.5,-5,-4.5,-3.5,-3,-2.5,-1.5,-1,-0.5,0.5,1,1.5,2.5,3,3.5,4.5], "tickSize": -6, "labels": false, "title": "TPC", "titleX": 414, "titleY": 44, "titleAlign": "right", "titleBaseline": "alphabetic", "titleFontSize": 12.5}},
    "x2": {"field": "xhi"},
    "y": {"field": "v", "type": "quantitative", "scale": {"domain": [0, 380.7], "nice": false, "zero": false}, "axis": {"orient": "left", "values": [10,20,30,40,60,70,80,90,110,120,130,140,160,170,180,190,210,220,230,240,260,270,280,290,310,320,330,340,360,370,380], "tickSize": -6, "labels": false, "title": null}}}},
  {"data": {"name": "cur"}, "transform": [{"filter": "datum.p == 2 && datum.c == 'g'"}],
   "mark": {"type": "line", "color": "#55c855", "strokeWidth": 1.6, "interpolate": "monotone"},
   "encoding": {
    "x": {"field": "x", "type": "quantitative", "scale": {"domain": [-6, 5], "nice": false, "zero": false}, "axis": {"orient": "top", "values": [-6,-4,-2,0,2,4], "tickSize": -11, "labels": false, "title": null}},
    "y": {"field": "y", "type": "quantitative", "scale": {"domain": [0, 380.7], "nice": false, "zero": false}, "axis": {"orient": "right", "values": [0,50,100,150,200,250,300,350], "tickSize": -12, "labels": false, "title": null}}}},
  {"data": {"name": "cur"}, "transform": [{"filter": "datum.p == 2 && datum.c == 'k'"}],
   "mark": {"type": "line", "color": "#000000", "strokeWidth": 2, "interpolate": "monotone"},
   "encoding": {
    "x": {"field": "x", "type": "quantitative", "scale": {"domain": [-6, 5], "nice": false, "zero": false}, "axis": {"orient": "top", "values": [-5.5,-5,-4.5,-3.5,-3,-2.5,-1.5,-1,-0.5,0.5,1,1.5,2.5,3,3.5,4.5], "tickSize": -6, "labels": false, "title": null}},
    "y": {"field": "y", "type": "quantitative", "scale": {"domain": [0, 380.7], "nice": false, "zero": false}, "axis": {"orient": "right", "values": [10,20,30,40,60,70,80,90,110,120,130,140,160,170,180,190,210,220,230,240,260,270,280,290,310,320,330,340,360,370,380], "tickSize": -6, "labels": false, "title": null}}}},
  {"data": {"name": "cur"}, "transform": [{"filter": "datum.p == 2 && datum.c == 'r'"}],
   "mark": {"type": "line", "color": "#ff0000", "strokeWidth": 2, "interpolate": "monotone"},
   "encoding": {
    "x": {"field": "x", "type": "quantitative", "scale": {"domain": [-6, 5], "nice": false, "zero": false}, "axis": null},
    "y": {"field": "y", "type": "quantitative", "scale": {"domain": [0, 380.7], "nice": false, "zero": false}, "axis": null}}},
  {"data": {"name": "one"}, "mark": {"type": "text", "text": "This thesis", "fontSize": 21, "align": "left", "baseline": "alphabetic", "color": "#222"},
   "encoding": {"x": {"datum": 1.087, "type": "quantitative", "scale": {"domain": [-6, 5], "nice": false, "zero": false}, "axis": null}, "y": {"datum": 334.3, "type": "quantitative", "scale": {"domain": [0, 380.7], "nice": false, "zero": false}, "axis": null}}},
  {"data": {"name": "one"}, "mark": {"type": "text", "text": "0.65<p/Z<0.8", "fontSize": 18.5, "fontWeight": "bold", "align": "left", "baseline": "alphabetic"},
   "encoding": {"x": {"datum": -0.236, "type": "quantitative", "scale": {"domain": [-6, 5], "nice": false, "zero": false}, "axis": null}, "y": {"datum": 306.8, "type": "quantitative", "scale": {"domain": [0, 380.7], "nice": false, "zero": false}, "axis": null}}},
  {"data": {"name": "one"}, "mark": {"type": "text", "text": "χ", "fontSize": 21, "fontStyle": "italic", "align": "left", "baseline": "alphabetic"},
   "encoding": {"x": {"datum": -0.236, "type": "quantitative", "scale": {"domain": [-6, 5], "nice": false, "zero": false}, "axis": null}, "y": {"datum": 287.2, "type": "quantitative", "scale": {"domain": [0, 380.7], "nice": false, "zero": false}, "axis": null}}},
  {"data": {"name": "one"}, "mark": {"type": "text", "text": "2", "fontSize": 10.5, "align": "left", "baseline": "alphabetic", "dx": 12, "dy": -8},
   "encoding": {"x": {"datum": -0.236, "type": "quantitative", "scale": {"domain": [-6, 5], "nice": false, "zero": false}, "axis": null}, "y": {"datum": 287.2, "type": "quantitative", "scale": {"domain": [0, 380.7], "nice": false, "zero": false}, "axis": null}}},
  {"data": {"name": "one"}, "mark": {"type": "text", "text": "NDF", "fontSize": 12.5, "fontStyle": "italic", "align": "left", "baseline": "alphabetic", "dx": 10, "dy": 3},
   "encoding": {"x": {"datum": -0.236, "type": "quantitative", "scale": {"domain": [-6, 5], "nice": false, "zero": false}, "axis": null}, "y": {"datum": 287.2, "type": "quantitative", "scale": {"domain": [0, 380.7], "nice": false, "zero": false}, "axis": null}}},
  {"data": {"name": "one"}, "mark": {"type": "text", "text": "= 3.21", "fontSize": 19, "align": "left", "baseline": "alphabetic", "dx": 45},
   "encoding": {"x": {"datum": -0.236, "type": "quantitative", "scale": {"domain": [-6, 5], "nice": false, "zero": false}, "axis": null}, "y": {"datum": 287.2, "type": "quantitative", "scale": {"domain": [0, 380.7], "nice": false, "zero": false}, "axis": null}}},
  {"data": {"name": "one"}, "mark": {"type": "text", "text": "yield", "fontSize": 19, "fontStyle": "italic", "align": "left", "baseline": "alphabetic"},
   "encoding": {"x": {"datum": -0.236, "type": "quantitative", "scale": {"domain": [-6, 5], "nice": false, "zero": false}, "axis": null}, "y": {"datum": 267.3, "type": "quantitative", "scale": {"domain": [0, 380.7], "nice": false, "zero": false}, "axis": null}}},
  {"data": {"name": "one"}, "mark": {"type": "text", "text": "= 737.2", "fontSize": 20, "align": "left", "baseline": "alphabetic", "dx": 46},
   "encoding": {"x": {"datum": -0.236, "type": "quantitative", "scale": {"domain": [-6, 5], "nice": false, "zero": false}, "axis": null}, "y": {"datum": 267.3, "type": "quantitative", "scale": {"domain": [0, 380.7], "nice": false, "zero": false}, "axis": null}}},
  {"data": {"name": "one"}, "mark": {"type": "text", "text": "± 35.16", "fontSize": 20, "align": "right", "baseline": "alphabetic", "dx": 189},
   "encoding": {"x": {"datum": -0.236, "type": "quantitative", "scale": {"domain": [-6, 5], "nice": false, "zero": false}, "axis": null}, "y": {"datum": 267.3, "type": "quantitative", "scale": {"domain": [0, 380.7], "nice": false, "zero": false}, "axis": null}}}
 ]
},
{
 "width": 416, "height": 402,
 "resolve": {"axis": {"x": "independent", "y": "independent"}},
 "layer": [
  {"data": {"name": "pts"}, "transform": [{"filter": "datum.p == 3"}],
   "mark": {"type": "rule", "color": "#3535b5", "strokeWidth": 1.2},
   "encoding": {
    "x": {"field": "x", "type": "quantitative", "scale": {"domain": [-6, 5], "nice": false, "zero": false}, "axis": {"orient": "bottom", "values": [-6,-4,-2,0,2,4], "tickSize": -11, "labelPadding": 19, "title": "nσ", "titleX": 387, "titleY": 41, "titleAlign": "right", "titleBaseline": "alphabetic", "titleFontSize": 19.5}},
    "y": {"field": "lo", "type": "quantitative", "scale": {"domain": [0, 49.8], "nice": false, "zero": false}, "axis": {"orient": "left", "values": [0,5,10,15,20,25,30,35,40,45], "tickSize": -12, "labelPadding": 17, "title": "yield", "titleX": -34, "titleY": 0, "titleAngle": 270, "titleAlign": "right", "titleBaseline": "alphabetic", "titleFontSize": 18}},
    "y2": {"field": "hi"}}},
  {"data": {"name": "pts"}, "transform": [{"filter": "datum.p == 3"}],
   "mark": {"type": "rule", "color": "#3535b5", "strokeWidth": 1.2},
   "encoding": {
    "x": {"field": "xlo", "type": "quantitative", "scale": {"domain": [-6, 5], "nice": false, "zero": false}, "axis": {"orient": "bottom", "values": [-5.5,-5,-4.5,-3.5,-3,-2.5,-1.5,-1,-0.5,0.5,1,1.5,2.5,3,3.5,4.5], "tickSize": -6, "labels": false, "title": "TPC", "titleX": 414, "titleY": 44, "titleAlign": "right", "titleBaseline": "alphabetic", "titleFontSize": 12.5}},
    "x2": {"field": "xhi"},
    "y": {"field": "v", "type": "quantitative", "scale": {"domain": [0, 49.8], "nice": false, "zero": false}, "axis": {"orient": "left", "values": [1,2,3,4,6,7,8,9,11,12,13,14,16,17,18,19,21,22,23,24,26,27,28,29,31,32,33,34,36,37,38,39,41,42,43,44,46,47,48,49], "tickSize": -6, "labels": false, "title": null}}}},
  {"data": {"name": "cur"}, "transform": [{"filter": "datum.p == 3 && datum.c == 'g'"}],
   "mark": {"type": "line", "color": "#55c855", "strokeWidth": 1.6, "interpolate": "monotone"},
   "encoding": {
    "x": {"field": "x", "type": "quantitative", "scale": {"domain": [-6, 5], "nice": false, "zero": false}, "axis": {"orient": "top", "values": [-6,-4,-2,0,2,4], "tickSize": -11, "labels": false, "title": null}},
    "y": {"field": "y", "type": "quantitative", "scale": {"domain": [0, 49.8], "nice": false, "zero": false}, "axis": {"orient": "right", "values": [0,5,10,15,20,25,30,35,40,45], "tickSize": -12, "labels": false, "title": null}}}},
  {"data": {"name": "cur"}, "transform": [{"filter": "datum.p == 3 && datum.c == 'k'"}],
   "mark": {"type": "line", "color": "#000000", "strokeWidth": 2, "interpolate": "monotone"},
   "encoding": {
    "x": {"field": "x", "type": "quantitative", "scale": {"domain": [-6, 5], "nice": false, "zero": false}, "axis": {"orient": "top", "values": [-5.5,-5,-4.5,-3.5,-3,-2.5,-1.5,-1,-0.5,0.5,1,1.5,2.5,3,3.5,4.5], "tickSize": -6, "labels": false, "title": null}},
    "y": {"field": "y", "type": "quantitative", "scale": {"domain": [0, 49.8], "nice": false, "zero": false}, "axis": {"orient": "right", "values": [1,2,3,4,6,7,8,9,11,12,13,14,16,17,18,19,21,22,23,24,26,27,28,29,31,32,33,34,36,37,38,39,41,42,43,44,46,47,48,49], "tickSize": -6, "labels": false, "title": null}}}},
  {"data": {"name": "cur"}, "transform": [{"filter": "datum.p == 3 && datum.c == 'r'"}],
   "mark": {"type": "line", "color": "#ff0000", "strokeWidth": 2, "interpolate": "monotone"},
   "encoding": {
    "x": {"field": "x", "type": "quantitative", "scale": {"domain": [-6, 5], "nice": false, "zero": false}, "axis": null},
    "y": {"field": "y", "type": "quantitative", "scale": {"domain": [0, 49.8], "nice": false, "zero": false}, "axis": null}}},
  {"data": {"name": "one"}, "mark": {"type": "text", "text": "This thesis", "fontSize": 21, "align": "left", "baseline": "alphabetic", "color": "#222"},
   "encoding": {"x": {"datum": 1.087, "type": "quantitative", "scale": {"domain": [-6, 5], "nice": false, "zero": false}, "axis": null}, "y": {"datum": 43.85, "type": "quantitative", "scale": {"domain": [0, 49.8], "nice": false, "zero": false}, "axis": null}}},
  {"data": {"name": "one"}, "mark": {"type": "text", "text": "0.8<p/Z<1.0", "fontSize": 18.5, "fontWeight": "bold", "align": "left", "baseline": "alphabetic"},
   "encoding": {"x": {"datum": -5.524, "type": "quantitative", "scale": {"domain": [-6, 5], "nice": false, "zero": false}, "axis": null}, "y": {"datum": 44.1, "type": "quantitative", "scale": {"domain": [0, 49.8], "nice": false, "zero": false}, "axis": null}}},
  {"data": {"name": "one"}, "mark": {"type": "text", "text": "χ", "fontSize": 22, "fontStyle": "italic", "align": "left", "baseline": "alphabetic"},
   "encoding": {"x": {"datum": -5.524, "type": "quantitative", "scale": {"domain": [-6, 5], "nice": false, "zero": false}, "axis": null}, "y": {"datum": 40.14, "type": "quantitative", "scale": {"domain": [0, 49.8], "nice": false, "zero": false}, "axis": null}}},
  {"data": {"name": "one"}, "mark": {"type": "text", "text": "2", "fontSize": 11, "align": "left", "baseline": "alphabetic", "dx": 13, "dy": -11},
   "encoding": {"x": {"datum": -5.524, "type": "quantitative", "scale": {"domain": [-6, 5], "nice": false, "zero": false}, "axis": null}, "y": {"datum": 40.14, "type": "quantitative", "scale": {"domain": [0, 49.8], "nice": false, "zero": false}, "axis": null}}},
  {"data": {"name": "one"}, "mark": {"type": "text", "text": "NDF", "fontSize": 13, "fontStyle": "italic", "align": "left", "baseline": "alphabetic", "dx": 12, "dy": 6},
   "encoding": {"x": {"datum": -5.524, "type": "quantitative", "scale": {"domain": [-6, 5], "nice": false, "zero": false}, "axis": null}, "y": {"datum": 40.14, "type": "quantitative", "scale": {"domain": [0, 49.8], "nice": false, "zero": false}, "axis": null}}},
  {"data": {"name": "one"}, "mark": {"type": "text", "text": "= 1.39", "fontSize": 19.5, "align": "left", "baseline": "alphabetic", "dx": 49},
   "encoding": {"x": {"datum": -5.524, "type": "quantitative", "scale": {"domain": [-6, 5], "nice": false, "zero": false}, "axis": null}, "y": {"datum": 40.14, "type": "quantitative", "scale": {"domain": [0, 49.8], "nice": false, "zero": false}, "axis": null}}},
  {"data": {"name": "one"}, "mark": {"type": "text", "text": "yield = 161.82", "fontSize": 18.5, "align": "left", "baseline": "alphabetic"},
   "encoding": {"x": {"datum": -5.577, "type": "quantitative", "scale": {"domain": [-6, 5], "nice": false, "zero": false}, "axis": null}, "y": {"datum": 36.79, "type": "quantitative", "scale": {"domain": [0, 49.8], "nice": false, "zero": false}, "axis": null}}},
  {"data": {"name": "one"}, "mark": {"type": "text", "text": "± 13.07", "fontSize": 18.5, "align": "right", "baseline": "alphabetic"},
   "encoding": {"x": {"datum": -2.748, "type": "quantitative", "scale": {"domain": [-6, 5], "nice": false, "zero": false}, "axis": null}, "y": {"datum": 34.31, "type": "quantitative", "scale": {"domain": [0, 49.8], "nice": false, "zero": false}, "axis": null}}}
 ]
},
{
 "width": 416, "height": 402,
 "resolve": {"axis": {"x": "independent", "y": "independent"}},
 "layer": [
  {"data": {"name": "pts"}, "transform": [{"filter": "datum.p == 4"}],
   "mark": {"type": "rule", "color": "#3535b5", "strokeWidth": 1.2},
   "encoding": {
    "x": {"field": "x", "type": "quantitative", "scale": {"domain": [-6, 5], "nice": false, "zero": false}, "axis": {"orient": "bottom", "values": [-6,-4,-2,0,2,4], "tickSize": -11, "labelPadding": 19, "title": "nσ", "titleX": 387, "titleY": 41, "titleAlign": "right", "titleBaseline": "alphabetic", "titleFontSize": 19.5}},
    "y": {"field": "lo", "type": "quantitative", "scale": {"domain": [0, 701.2], "nice": false, "zero": false}, "axis": {"orient": "left", "values": [0,100,200,300,400,500,600,700], "tickSize": -12, "labelPadding": 17, "title": "yield", "titleX": -45, "titleY": 0, "titleAngle": 270, "titleAlign": "right", "titleBaseline": "alphabetic", "titleFontSize": 18}},
    "y2": {"field": "hi"}}},
  {"data": {"name": "pts"}, "transform": [{"filter": "datum.p == 4"}],
   "mark": {"type": "rule", "color": "#3535b5", "strokeWidth": 1.2},
   "encoding": {
    "x": {"field": "xlo", "type": "quantitative", "scale": {"domain": [-6, 5], "nice": false, "zero": false}, "axis": {"orient": "bottom", "values": [-5.5,-5,-4.5,-3.5,-3,-2.5,-1.5,-1,-0.5,0.5,1,1.5,2.5,3,3.5,4.5], "tickSize": -6, "labels": false, "title": "TPC", "titleX": 414, "titleY": 44, "titleAlign": "right", "titleBaseline": "alphabetic", "titleFontSize": 12.5}},
    "x2": {"field": "xhi"},
    "y": {"field": "v", "type": "quantitative", "scale": {"domain": [0, 701.2], "nice": false, "zero": false}, "axis": {"orient": "left", "values": [20,40,60,80,120,140,160,180,220,240,260,280,320,340,360,380,420,440,460,480,520,540,560,580,620,640,660,680], "tickSize": -6, "labels": false, "title": null}}}},
  {"data": {"name": "cur"}, "transform": [{"filter": "datum.p == 4 && datum.c == 'g'"}],
   "mark": {"type": "line", "color": "#55c855", "strokeWidth": 1.6, "interpolate": "monotone"},
   "encoding": {
    "x": {"field": "x", "type": "quantitative", "scale": {"domain": [-6, 5], "nice": false, "zero": false}, "axis": {"orient": "top", "values": [-6,-4,-2,0,2,4], "tickSize": -11, "labels": false, "title": null}},
    "y": {"field": "y", "type": "quantitative", "scale": {"domain": [0, 701.2], "nice": false, "zero": false}, "axis": {"orient": "right", "values": [0,100,200,300,400,500,600,700], "tickSize": -12, "labels": false, "title": null}}}},
  {"data": {"name": "cur"}, "transform": [{"filter": "datum.p == 4 && datum.c == 'k'"}],
   "mark": {"type": "line", "color": "#000000", "strokeWidth": 2, "interpolate": "monotone"},
   "encoding": {
    "x": {"field": "x", "type": "quantitative", "scale": {"domain": [-6, 5], "nice": false, "zero": false}, "axis": {"orient": "top", "values": [-5.5,-5,-4.5,-3.5,-3,-2.5,-1.5,-1,-0.5,0.5,1,1.5,2.5,3,3.5,4.5], "tickSize": -6, "labels": false, "title": null}},
    "y": {"field": "y", "type": "quantitative", "scale": {"domain": [0, 701.2], "nice": false, "zero": false}, "axis": {"orient": "right", "values": [20,40,60,80,120,140,160,180,220,240,260,280,320,340,360,380,420,440,460,480,520,540,560,580,620,640,660,680], "tickSize": -6, "labels": false, "title": null}}}},
  {"data": {"name": "cur"}, "transform": [{"filter": "datum.p == 4 && datum.c == 'r'"}],
   "mark": {"type": "line", "color": "#ff0000", "strokeWidth": 2, "interpolate": "monotone"},
   "encoding": {
    "x": {"field": "x", "type": "quantitative", "scale": {"domain": [-6, 5], "nice": false, "zero": false}, "axis": null},
    "y": {"field": "y", "type": "quantitative", "scale": {"domain": [0, 701.2], "nice": false, "zero": false}, "axis": null}}},
  {"data": {"name": "one"}, "mark": {"type": "text", "text": "This thesis", "fontSize": 21, "align": "left", "baseline": "alphabetic", "color": "#222"},
   "encoding": {"x": {"datum": 1.087, "type": "quantitative", "scale": {"domain": [-6, 5], "nice": false, "zero": false}, "axis": null}, "y": {"datum": 617.5, "type": "quantitative", "scale": {"domain": [0, 701.2], "nice": false, "zero": false}, "axis": null}}},
  {"data": {"name": "one"}, "mark": {"type": "text", "text": "0.8<p/Z<1.0", "fontSize": 18.5, "fontWeight": "bold", "align": "left", "baseline": "alphabetic"},
   "encoding": {"x": {"datum": -0.236, "type": "quantitative", "scale": {"domain": [-6, 5], "nice": false, "zero": false}, "axis": null}, "y": {"datum": 566.9, "type": "quantitative", "scale": {"domain": [0, 701.2], "nice": false, "zero": false}, "axis": null}}},
  {"data": {"name": "one"}, "mark": {"type": "text", "text": "χ", "fontSize": 21, "fontStyle": "italic", "align": "left", "baseline": "alphabetic"},
   "encoding": {"x": {"datum": -0.236, "type": "quantitative", "scale": {"domain": [-6, 5], "nice": false, "zero": false}, "axis": null}, "y": {"datum": 530.2, "type": "quantitative", "scale": {"domain": [0, 701.2], "nice": false, "zero": false}, "axis": null}}},
  {"data": {"name": "one"}, "mark": {"type": "text", "text": "2", "fontSize": 10.5, "align": "left", "baseline": "alphabetic", "dx": 12, "dy": -8},
   "encoding": {"x": {"datum": -0.236, "type": "quantitative", "scale": {"domain": [-6, 5], "nice": false, "zero": false}, "axis": null}, "y": {"datum": 530.2, "type": "quantitative", "scale": {"domain": [0, 701.2], "nice": false, "zero": false}, "axis": null}}},
  {"data": {"name": "one"}, "mark": {"type": "text", "text": "NDF", "fontSize": 12.5, "fontStyle": "italic", "align": "left", "baseline": "alphabetic", "dx": 10, "dy": 3},
   "encoding": {"x": {"datum": -0.236, "type": "quantitative", "scale": {"domain": [-6, 5], "nice": false, "zero": false}, "axis": null}, "y": {"datum": 530.2, "type": "quantitative", "scale": {"domain": [0, 701.2], "nice": false, "zero": false}, "axis": null}}},
  {"data": {"name": "one"}, "mark": {"type": "text", "text": "= 1.40", "fontSize": 19, "align": "left", "baseline": "alphabetic", "dx": 45},
   "encoding": {"x": {"datum": -0.236, "type": "quantitative", "scale": {"domain": [-6, 5], "nice": false, "zero": false}, "axis": null}, "y": {"datum": 530.2, "type": "quantitative", "scale": {"domain": [0, 701.2], "nice": false, "zero": false}, "axis": null}}},
  {"data": {"name": "one"}, "mark": {"type": "text", "text": "yield", "fontSize": 19, "fontStyle": "italic", "align": "left", "baseline": "alphabetic"},
   "encoding": {"x": {"datum": -0.236, "type": "quantitative", "scale": {"domain": [-6, 5], "nice": false, "zero": false}, "axis": null}, "y": {"datum": 493.6, "type": "quantitative", "scale": {"domain": [0, 701.2], "nice": false, "zero": false}, "axis": null}}},
  {"data": {"name": "one"}, "mark": {"type": "text", "text": "= 388.51", "fontSize": 20, "align": "left", "baseline": "alphabetic", "dx": 46},
   "encoding": {"x": {"datum": -0.236, "type": "quantitative", "scale": {"domain": [-6, 5], "nice": false, "zero": false}, "axis": null}, "y": {"datum": 493.6, "type": "quantitative", "scale": {"domain": [0, 701.2], "nice": false, "zero": false}, "axis": null}}},
  {"data": {"name": "one"}, "mark": {"type": "text", "text": "± 19.96", "fontSize": 20, "align": "right", "baseline": "alphabetic", "dx": 200},
   "encoding": {"x": {"datum": -0.236, "type": "quantitative", "scale": {"domain": [-6, 5], "nice": false, "zero": false}, "axis": null}, "y": {"datum": 493.6, "type": "quantitative", "scale": {"domain": [0, 701.2], "nice": false, "zero": false}, "axis": null}}}
 ]
}
]
}
